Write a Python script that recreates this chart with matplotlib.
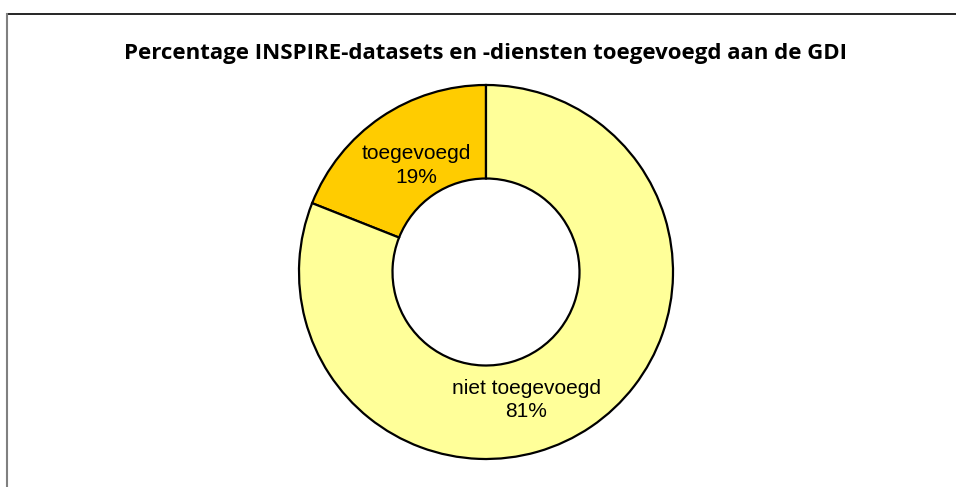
import matplotlib
matplotlib.use('Agg')
import matplotlib.pyplot as plt
from matplotlib.lines import Line2D

# data
categories = ['toegevoegd', 'niet toegevoegd']
values = [19, 81]
colors = ['#FFCC00', '#FFFF99']
title = 'Percentage INSPIRE-datasets en -diensten toegevoegd aan de GDI'

W, H, dpi = 956, 487, 100
fig = plt.figure(figsize=(W / dpi, H / dpi), dpi=dpi)
fig.patch.set_facecolor('white')

# pie axes: centre (486, 272) px from top-left, radius 187 px
cx, cy, r = 486, 272, 187
ax = fig.add_axes([(cx - r) / W, (H - cy - r) / H, 2 * r / W, 2 * r / H])
wedges, _ = ax.pie(values, colors=colors, startangle=90, counterclock=True,
                   radius=1.0,
                   wedgeprops=dict(width=0.5, edgecolor='black', linewidth=1.6))
ax.set_xlim(-1, 1)
ax.set_ylim(-1, 1)
ax.set_aspect('equal')
ax.axis('off')

# data labels (placed like the Excel chart)
label_pos = [(-0.37, 0.57), (0.215, -0.685)]
for cat, val, (lx, ly) in zip(categories, values, label_pos):
    ax.text(lx, ly, f'{cat}\n{val}%', ha='center', va='center',
            fontsize=15, family='Liberation Sans', linespacing=1.3)

fig.text(cx / W, 1 - 53 / H, title, ha='center', va='center',
         fontsize=16, fontweight='bold', family='Open Sans')

# chart area border (top and left visible)
fig.add_artist(Line2D([7 / W, 1], [1 - 13.5 / H] * 2, color='black', lw=1.2,
                      transform=fig.transFigure))
fig.add_artist(Line2D([7 / W] * 2, [0, 1 - 13.5 / H], color='#808080', lw=1.5,
                      transform=fig.transFigure))

fig.savefig('out.png', dpi=dpi)
